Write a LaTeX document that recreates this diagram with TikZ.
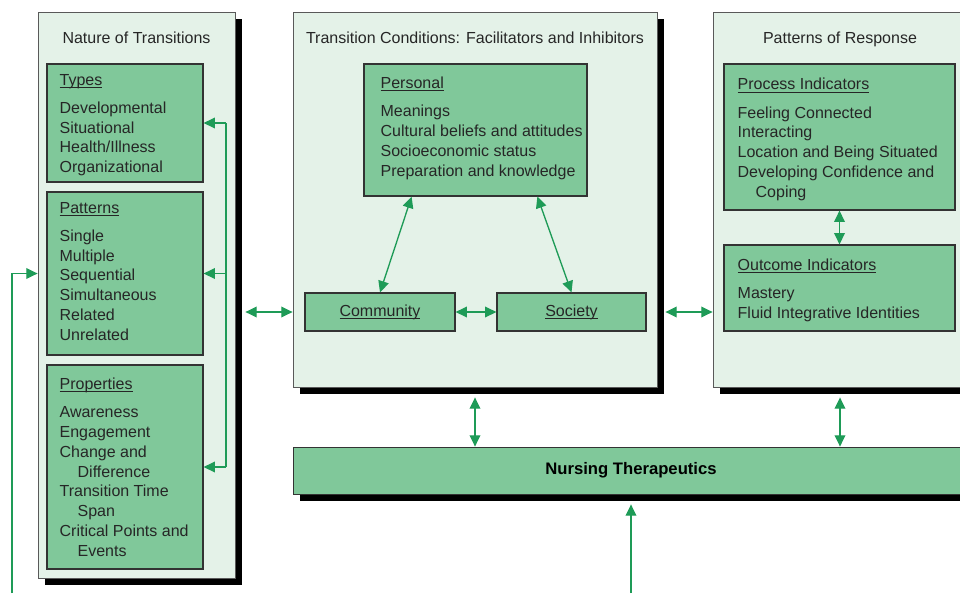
\documentclass[tikz,border=0pt]{standalone}
\usepackage{fontspec}
\setmainfont{Liberation Sans}
\usetikzlibrary{positioning, fit, shadows, arrows.meta, calc}
\definecolor{panelfill}{HTML}{E4F2E8}
\definecolor{boxfill}{HTML}{80C89A}
\definecolor{arrowgreen}{HTML}{1E9B57}
\newcommand{\uhead}[1]{\setbox0=\hbox{#1}\rlap{\rule[-2pt]{\wd0}{0.6pt}}\box0}

\begin{document}
\begin{tikzpicture}[x=0.75pt, y=-0.75pt,
  panel/.style={draw=black!65, line width=0.6pt, fill=panelfill, inner sep=0pt,
    drop shadow={shadow xshift=5.25pt, shadow yshift=-5.25pt, fill=black, opacity=1}},
  inbox/.style={draw=black!80, line width=0.9pt, fill=boxfill, inner sep=0pt},
  title/.style={font=\fontsize{12}{14.8}\selectfont, text=black!85, inner sep=0pt,
    text height=8.6pt, text depth=2.6pt},
  itemtext/.style={font=\fontsize{12}{14.8}\selectfont, align=left, anchor=north west, inner sep=0pt, text=black!85},
  link/.style={draw=arrowgreen, line width=1pt},
  flow/.style={link, -{Triangle[length=8.5pt, width=8pt]}},
  dflow/.style={link, {Triangle[length=8.5pt, width=8pt]}-{Triangle[length=8.5pt, width=8pt]}}]
\useasboundingbox (0,0) rectangle (960,593);

% the three panels and the bar
\node[panel, fit={(38,12) (235,578)}] (nature) {};
\node[panel, fit={(293,12) (657,387)}] (conditions) {};
\node[panel, fit={(713,12) (967,387)}] (response) {};
\node[panel, fill=boxfill, draw=black!80, fit={(293,447) (969,494)}] (nursing) {};

\node[title] (naturetitle) at ([yshift=-21pt]nature.north) {Nature of Transitions};
\node[title] (condtitle) at ([yshift=-21pt]conditions.north) {Transition Conditions: Facilitators and Inhibitors};
\node[title] (resptitle) at ([yshift=-21pt]response.north) {Patterns of Response};
\node[title, font=\fontsize{12.5}{14.8}\selectfont\bfseries, text=black] (nursingtext) at (nursing) {Nursing Therapeutics};

% inner boxes
\node[inbox, fit={(47,64) (203,182)}] (types) {};
\node[inbox, fit={(47,192) (203,355)}] (patterns) {};
\node[inbox, fit={(47,365) (203,569)}] (properties) {};
\node[inbox, fit={(364,64) (587,196)}] (personal) {};
\node[inbox, fit={(305,293) (455,331)}] (community) {};
\node[inbox, fit={(497,293) (646,331)}] (society) {};
\node[inbox, fit={(724,64) (955,210)}] (process) {};
\node[inbox, fit={(724,245) (955,331)}] (outcome) {};

\node[itemtext] (typestext) at ([xshift=9.75pt, yshift=-7.9pt]types.north west)
  {\uhead{Types}\\[6.4pt] Developmental\\ Situational\\ Health/Illness\\ Organizational};
\node[itemtext] (patternstext) at ([xshift=9.75pt, yshift=-7.9pt]patterns.north west)
  {\uhead{Patterns}\\[6.4pt] Single\\ Multiple\\ Sequential\\ Simultaneous\\ Related\\ Unrelated};
\node[itemtext] (propertiestext) at ([xshift=9.75pt, yshift=-10pt]properties.north west)
  {\uhead{Properties}\\[6.4pt] Awareness\\ Engagement\\ Change and\\ \hspace*{13.5pt}Difference\\
   Transition Time\\ \hspace*{13.5pt}Span\\ Critical Points and\\ \hspace*{13.5pt}Events};
\node[itemtext] (personaltext) at ([xshift=12.75pt, yshift=-10pt]personal.north west)
  {\uhead{Personal}\\[6.4pt] Meanings\\ Cultural beliefs and attitudes\\ Socioeconomic status\\ Preparation and knowledge};
\node[title] (communitytext) at (community) {\uhead{Community}};
\node[title] (societytext) at (society) {\uhead{Society}};
\node[itemtext] (processtext) at ([xshift=10.5pt, yshift=-11pt]process.north west)
  {\uhead{Process Indicators}\\[6.4pt] Feeling Connected\\ Interacting\\ Location and Being Situated\\
   Developing Confidence and\\ \hspace*{13.5pt}Coping};
\node[itemtext] (outcometext) at ([xshift=10.5pt, yshift=-10.5pt]outcome.north west)
  {\uhead{Outcome Indicators}\\[6.4pt] Mastery\\ Fluid Integrative Identities};

% connectors
\coordinate (brx) at (226,0);
\draw[link] (brx |- types.east) -- (brx |- properties.east);
\foreach \b in {types, patterns, properties} \draw[flow] (brx |- \b.east) -- (\b.east);

\coordinate (feed) at (12,593);
\draw[flow] (feed) |- (nature.west |- patterns.east);

\draw[dflow] ([xshift=7.5pt]nature.east |- community.west) -- (conditions.west |- community.west);
\draw[dflow] ([xshift=6pt]conditions.east |- community.east) -- (response.west |- community.east);
\draw[dflow] (community) -- (society);
\draw[dflow] ($(personal.south west)!0.215!(personal.south east)$) -- (community.north);
\draw[dflow] ($(personal.south west)!0.776!(personal.south east)$) -- (society.north);
\draw[dflow] (process) -- (outcome);
\draw[dflow] ([yshift=-7.5pt]conditions.south) -- (nursing.north -| conditions.south);
\draw[dflow] ([yshift=-7.5pt]response.south) -- (nursing.north -| response.south);

\coordinate (base) at (631,593);
\draw[flow] (base) -- ([yshift=-7.5pt]nursing.south);
\end{tikzpicture}
\end{document}
